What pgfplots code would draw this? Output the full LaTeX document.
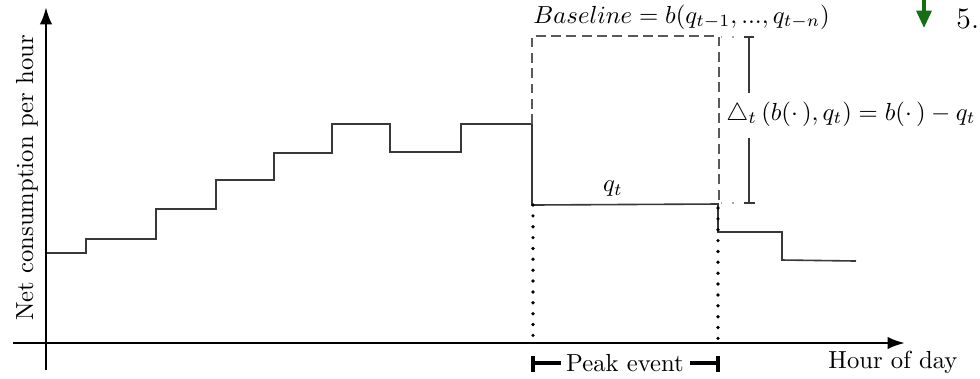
\documentclass[border=0pt]{standalone}
\usepackage{pgfplots}
\pgfplotsset{compat=1.18}
\usetikzlibrary{arrows.meta}

\definecolor{stepgray}{gray}{0.22}
\definecolor{dashgray}{gray}{0.35}
\definecolor{arrowgreen}{RGB}{20,110,20}

\begin{document}
\begin{tikzpicture}
\begin{axis}[
  scale only axis,
  width=396.9pt, height=153.1pt,
  xmin=0, xmax=980, ymin=0, ymax=378,
  hide axis,
  clip=true,
]
% axes with arrow heads
\addplot[black, line width=1.05pt, -{Latex[length=7pt,width=5pt]}]
  coordinates {(46,8) (46,371)};
\addplot[black, line width=1.05pt, -{Latex[length=7pt,width=5pt]}]
  coordinates {(13,35) (905,35)};

% hourly net consumption (step profile)
\addplot[stepgray, line width=0.65pt] coordinates {
  (47,125) (86,125) (86,139) (156,139) (156,169) (216,169)
  (216,198) (274,198) (274,225) (332,225) (332,254) (390,254)
  (390,226) (461,226) (461,254) (532,254) (532,173) (718,174)
  (718,146) (782,146) (782,118) (856,117)
};

% baseline during the event (dashed)
\addplot[dashgray, line width=0.5pt, dash pattern=on 4pt off 2.2pt]
  coordinates {(532,254) (532,342) (719,342) (719,174)};

% light dotted guides towards the difference bracket
\addplot[gray!70, line width=0.5pt, dash pattern=on 0.6pt off 4pt]
  coordinates {(721,341) (744,341)};
\addplot[gray!70, line width=0.5pt, dash pattern=on 0.6pt off 4pt]
  coordinates {(721,175) (744,175)};

% difference bracket
\addplot[stepgray, line width=0.55pt] coordinates {(749,341) (749,285)};
\addplot[stepgray, line width=0.55pt] coordinates {(749,240) (749,175)};
\addplot[stepgray, line width=0.55pt] coordinates {(744,341) (754,341)};
\addplot[stepgray, line width=0.55pt] coordinates {(744,175) (755,175)};

% event window boundaries (dotted)
\addplot[black, line width=1.5pt, line cap=round, dash pattern=on 0pt off 4.4pt]
  coordinates {(533,173) (533,35)};
\addplot[black, line width=1.5pt, line cap=round, dash pattern=on 0pt off 4.4pt]
  coordinates {(718,170) (718,35)};

% peak event span marker
\addplot[black, line width=1.3pt] coordinates {(533,6) (533,22)};
\addplot[black, line width=1.3pt] coordinates {(533,15) (561,15)};
\addplot[black, line width=1.3pt] coordinates {(690,15) (718,15)};
\addplot[black, line width=1.3pt] coordinates {(718,6) (718,22)};

% green arrow at the top right
\addplot[arrowgreen, line width=1.4pt, -{Triangle[length=7pt,width=6pt]}]
  coordinates {(924,380) (924,350)};

% labels
\node[anchor=center] at (axis cs:625,15) {Peak event};
\node[anchor=center] at (axis cs:893,16) {Hour of day};
\node[rotate=90, anchor=center] at (axis cs:27,200) {Net consumption per hour};
\node[anchor=west, inner sep=0pt] at (axis cs:533,361) {$Baseline = b(q_{t-1}, ..., q_{t-n})$};
\node[anchor=center] at (axis cs:613,189) {$q_t$};
\node[anchor=west, inner sep=0pt] at (axis cs:726,264)
  {\fontsize{10.3}{12}\selectfont $\triangle_t\left(b(\cdot\,),q_t\right) = b(\cdot\,) - q_t$};
\node[anchor=west, inner sep=0pt] at (axis cs:956,359) {\large 5.};

\coordinate (SW) at (rel axis cs:0,0);
\coordinate (NE) at (rel axis cs:1,1);
\end{axis}
\pgfresetboundingbox
\useasboundingbox (SW) rectangle (NE);
\end{tikzpicture}
\end{document}
